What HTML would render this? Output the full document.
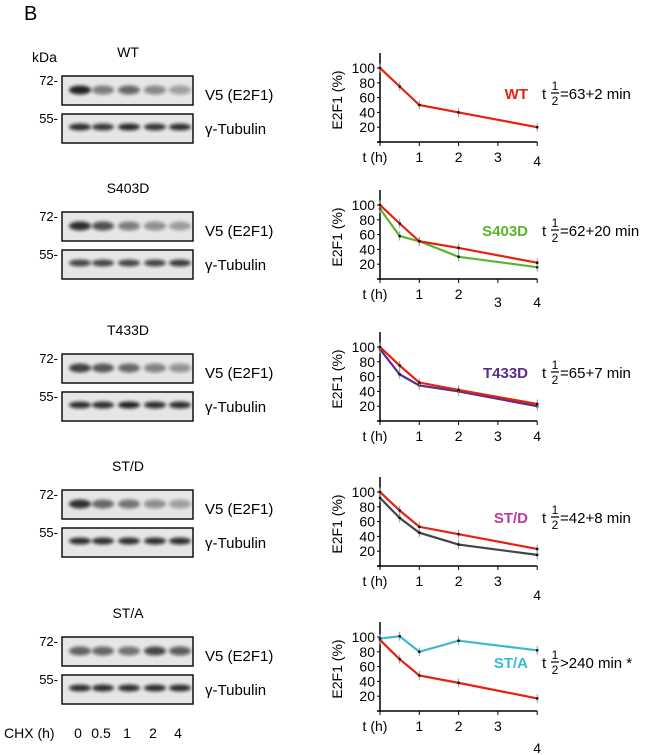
<!DOCTYPE html>
<html><head><meta charset="utf-8"><style>
html,body{margin:0;padding:0;background:#fff;overflow:hidden;}
svg{display:block;font-family:"Liberation Sans",Arial,sans-serif;}
</style></head><body>
<svg id="fig" width="650" height="755" viewBox="0 0 650 755">
<defs><filter id="blur" x="-50%" y="-100%" width="200%" height="300%"><feGaussianBlur stdDeviation="1.6"/></filter></defs>
<text x="24" y="20" font-size="20">B</text>
<text x="32" y="62" font-size="14">kDa</text>
<text x="4" y="738" font-size="14">CHX (h)</text>
<g id="chx"></g>
</svg>
<script>
const panelNames = ["WT","S403D","T433D","ST/D","ST/A"];
const panelColors = ["#e8200e","#5ab52a","#5b2a8e","#c0389a","#3bb8d8"];
const halfLives = ["=63+2 min","=62+20 min","=65+7 min","=42+8 min",">240 min *"];
const timePoints = [0,0.5,1,2,4];
const chxLabels = ["0","0.5","1","2","4"];
const yTicks = [20,40,60,80,100];
const xTicks = [1,2,3,4];
const redSeries = [[100,75,50,40,20],[100,75,51,42,22],[100,75,52,42,23],[100,75,53,43,23],[96,70,48,38,17]];
const mutSeries = [null,[95,58,51,30,16],[97,63,48,40,20],[92,65,45,29,15],[98,101,80,95,82]];
const mutColors = [null,"#5ab52a","#5b2a8e","#444444","#3bb8d8"];
const e2f1Bands = [[0.9,0.5,0.6,0.45,0.35],[0.85,0.7,0.5,0.42,0.32],[0.78,0.68,0.6,0.48,0.4],[0.85,0.6,0.55,0.42,0.35],[0.62,0.6,0.55,0.75,0.65]];
const tubBands = [[0.85,0.8,0.88,0.82,0.85],[0.75,0.75,0.75,0.75,0.8],[0.85,0.85,0.9,0.85,0.85],[0.85,0.85,0.85,0.85,0.85],[0.85,0.85,0.85,0.85,0.85]];

const NS="http://www.w3.org/2000/svg";
const svg=document.getElementById('fig');
function el(tag,attrs,parent,txt){const e=document.createElementNS(NS,tag);for(const k in attrs)e.setAttribute(k,attrs[k]);if(txt!==undefined)e.textContent=txt;(parent||svg).appendChild(e);return e;}
const blotOff=[0,136,278,414,561], chartOff=[0,137,279,424,569];
const fourDy=[4,8,0,14,22], threeDy=[0,8,0,0,0];
const laneX=[80,103,129,155,180];
const xS=t=>380+t*39.3;
function yS(v,o){return 142+o-v*0.74;}

const chx=document.getElementById('chx');
chxLabels.forEach((l,i)=>{const t=el('text',{x:laneX[i]-2,y:738,'font-size':14,'text-anchor':'middle'},chx,l);

});

panelNames.forEach((name,p)=>{
  const bo=blotOff[p], co=chartOff[p];
  const g=el('g',{});
  
  
  const h=el('text',{x:128,y:57+bo,'font-size':14,'text-anchor':'middle'},g,name);
  
  
  [[76,e2f1Bands[p],14,7,'72-','V5 (E2F1)',100,'e2f1-blot'],[114,tubBands[p],13,5,'55-','γ-Tubulin',134,'tubulin-blot']].forEach(b=>{
    const bg=el('g',{},g);
    
    
    el('rect',{x:62,y:b[0]+bo,width:131,height:29,fill:'#e6e6e6',stroke:'#111','stroke-width':1.5},bg);
    b[1].forEach((a,i)=>{el('ellipse',{cx:laneX[i],cy:b[0]+bo+b[2],rx:11,ry:b[3]/2+1,fill:'#111','fill-opacity':a,filter:'url(#blur)'},bg);});
    const m=el('text',{x:58,y:b[0]+bo+9,'font-size':13,'text-anchor':'end'},bg,b[4]);
    
    
    const lb=el('text',{x:205,y:b[6]+bo,'font-size':15},bg,b[5]);
    
    
  });
  const c=el('g',{},g);
  
  
  el('line',{x1:380,y1:53+co,x2:380,y2:143+co,stroke:'#000','stroke-width':1.5},c);
  el('line',{x1:379,y1:142+co,x2:xS(4),y2:142+co,stroke:'#000','stroke-width':1.5},c);
  el('line',{x1:377,y1:142+co,x2:380,y2:142+co,stroke:'#000','stroke-width':1.5},c);
  yTicks.forEach(v=>{
    el('line',{x1:377,y1:yS(v,co),x2:380,y2:yS(v,co),stroke:'#000'},c);
    const t=el('text',{x:375,y:yS(v,co)+5,'font-size':14,'text-anchor':'end'},c,String(v));
    
    
  });
  el('line',{x1:380,y1:142+co,x2:380,y2:146+co,stroke:'#000'},c);
  const th=el('text',{x:375,y:162+co,'font-size':14,'text-anchor':'middle'},c,'t (h)');
  
  
  xTicks.forEach(v=>{
    el('line',{x1:xS(v),y1:142+co,x2:xS(v),y2:146+co,stroke:'#000'},c);
    let dy=v===4?fourDy[p]:(v===3?threeDy[p]:0);
    const t=el('text',{x:xS(v),y:162+co+dy,'font-size':14,'text-anchor':'middle'},c,String(v));
    
    
  });
  const yt=el('text',{x:0,y:0,'font-size':14,'text-anchor':'middle',transform:`translate(342,${100+co}) rotate(-90)`},c,'E2F1 (%)');
  
  
  const series=[[mutSeries[p],mutColors[p],'mutant-line'],[redSeries[p],'#e8200e','wt-line']];
  if(p===4) series.reverse();
  series.forEach(s=>{
    if(!s[0])return;
    const pts=s[0].map((v,i)=>xS(timePoints[i])+','+yS(v,co)).join(' ');
    const ln=el('polyline',{points:pts,fill:'none',stroke:s[1],'stroke-width':2.2},c);
    
    
    s[0].forEach((v,i)=>{
      el('line',{x1:xS(timePoints[i]),y1:yS(v+6,co),x2:xS(timePoints[i]),y2:yS(v-6,co),stroke:'#999','stroke-width':1},c);
      el('rect',{x:xS(timePoints[i])-1.2,y:yS(v,co)-1.2,width:2.4,height:2.4,fill:'#111'},c);
    });
  });
  const lab=el('text',{x:528,y:99+co,'font-size':15,'font-weight':'bold',fill:panelColors[p],'text-anchor':'end'},c,name);
  
  
  const hl=el('g',{},c);
  
  
  el('text',{x:542,y:99+co,'font-size':15},hl,'t');
  el('text',{x:555,y:90+co,'font-size':12,'text-anchor':'middle'},hl,'1');
  el('line',{x1:551,y1:93+co,x2:559,y2:93+co,stroke:'#000','stroke-width':1.2},hl);
  el('text',{x:555,y:105+co,'font-size':12,'text-anchor':'middle'},hl,'2');
  el('text',{x:560,y:99+co,'font-size':15},hl,halfLives[p]);
});
</script>
</body></html>
